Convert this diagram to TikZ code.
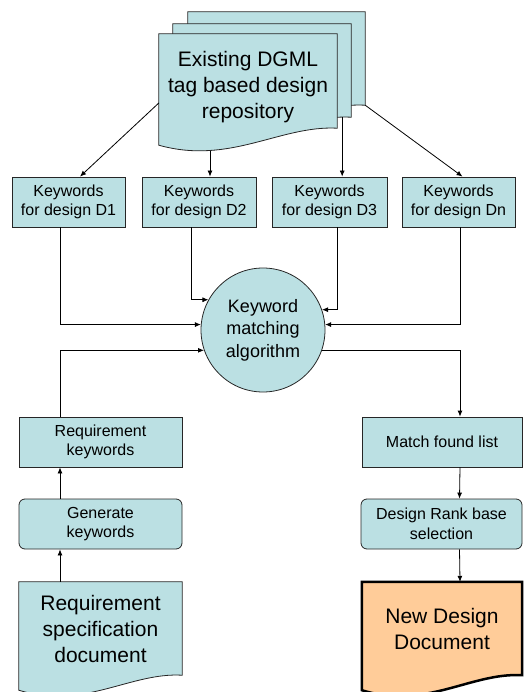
\documentclass[tikz,border=0pt]{standalone}
\usepackage{fontspec}
\setmainfont{Liberation Sans}
\usetikzlibrary{arrows.meta,calc,backgrounds}
\definecolor{boxteal}{HTML}{BBE0E3}
\definecolor{docorange}{HTML}{FFCC99}
\tikzset{
  kwbox/.style={draw=black!85, fill=boxteal, line width=0.8pt, inner sep=0pt,
    minimum height=50pt, align=center, font=\fontsize{16}{19.5}\selectfont},
  roundbox/.style={kwbox, rounded corners=6pt},
  docnode/.style={inner sep=0pt, align=center, font=\fontsize{21}{26}\selectfont},
  docline/.style={draw=black!85, fill=boxteal, line width=0.8pt},
  newdocline/.style={draw=black, fill=docorange, line width=2.5pt},
  arr/.style={-{Latex[length=6pt,width=5pt]}, line width=0.8pt},
}
% outline of a document shape behind node #1:
% left corner #3 below, right corner #4 above its south side
\newcommand\docoutline[4]{%
  \begin{pgfonlayer}{background}
  \draw[#2] ($(#1.south east)+(0,-#4)$) -- (#1.north east) -- (#1.north west) -- ($(#1.south west)+(0,#3)$)
    .. controls ($(#1.south west)!0.4!(#1.south east)+(0,#3+20)$)
    and ($(#1.south west)!0.68!(#1.south east)+(0,-#4-3)$) .. ($(#1.south east)+(0,-#4)$) -- cycle;
  \end{pgfonlayer}}
\begin{document}
\begin{tikzpicture}[x=1pt,y=-1pt]
\useasboundingbox (0,0) rectangle (528,692);
% design repository, back to front
\node[docnode, minimum width=177pt, minimum height=93pt] (repoC) at (276.5,58.5) {};
\node[docnode, minimum width=178pt, minimum height=93pt] (repoB) at (262,70.5) {};
\node[docnode, minimum width=178pt, minimum height=106pt] (repo) at (248,87) {Existing DGML\\tag based design\\repository};
\docoutline{repoC}{docline}{17}{0}
\docoutline{repoB}{docline}{17}{0}
\docoutline{repo}{docline}{5}{12}
% keywords per design
\node[kwbox, minimum width=113pt] (kw1) at (68.5,202) {Keywords\\for design D1};
\node[kwbox, minimum width=114pt] (kw2) at (199,202) {Keywords\\for design D2};
\node[kwbox, minimum width=115pt] (kw3) at (329.5,202) {Keywords\\for design D3};
\node[kwbox, minimum width=113pt] (kwn) at (458.5,202) {Keywords\\for design Dn};
\node[kwbox, circle, minimum size=124pt, font=\fontsize{18}{22.5}\selectfont] (kwm) at (263,330) {Keyword\\matching\\algorithm};
% left column
\node[kwbox, minimum width=163pt] (reqkw) at (100.5,442) {Requirement\\keywords};
\node[roundbox, minimum width=163pt] (genkw) at (100.5,524) {Generate\\keywords};
\node[docnode, minimum width=163pt, minimum height=93pt] (reqdoc) at (100.5,628.5) {Requirement\\specification\\document};
\docoutline{reqdoc}{docline}{15}{0}
% right column
\node[kwbox, minimum width=160pt] (match) at (442,442) {Match found list};
\node[roundbox, minimum width=161pt] (rank) at (441.5,524) {Design Rank base\\selection};
\node[docnode, minimum width=160pt, minimum height=93pt] (newdoc) at (442,628.5) {New Design\\Document};
\docoutline{newdoc}{newdocline}{15}{0}
% connectors
\draw[arr] ([yshift=-16pt]repo.west) -- ([xshift=11.5pt]kw1.north);
\draw[arr] ([xshift=11pt,yshift=26pt]kw2.north) -- ([xshift=11pt]kw2.north);
\draw[arr] ([xshift=-9pt]repoB.south east) -- ([xshift=-9pt]repoB.south east |- kw3.north);
\draw[arr] (repoC.south east) -- ([xshift=4pt]kwn.north);
\draw[arr] ([xshift=-8.5pt]kw1.south) |- (kwm.175);
\draw[arr] ([xshift=-8pt]kw2.south) |- (kwm.151);
\draw[arr] ([xshift=7.5pt]kw3.south) |- (kwm.19);
\draw[arr] ([xshift=1.5pt]kwn.south) |- (kwm.5);
\draw[arr] ([xshift=-40.5pt]reqdoc.north) -- ([xshift=-40.5pt]genkw.south);
\draw[arr] ([xshift=-40.5pt]genkw.north) -- ([xshift=-40.5pt]reqkw.south);
\draw[arr] ([xshift=-40.5pt]reqkw.north) |- (kwm.199);
\draw[arr] (kwm.-19) -| ([xshift=18pt]match.north);
\draw[arr] ([xshift=18pt]match.south) -- ([xshift=18pt]rank.north);
\draw[arr] ([xshift=18pt]rank.south) -- ([xshift=18pt]newdoc.north);
\end{tikzpicture}
\end{document}
